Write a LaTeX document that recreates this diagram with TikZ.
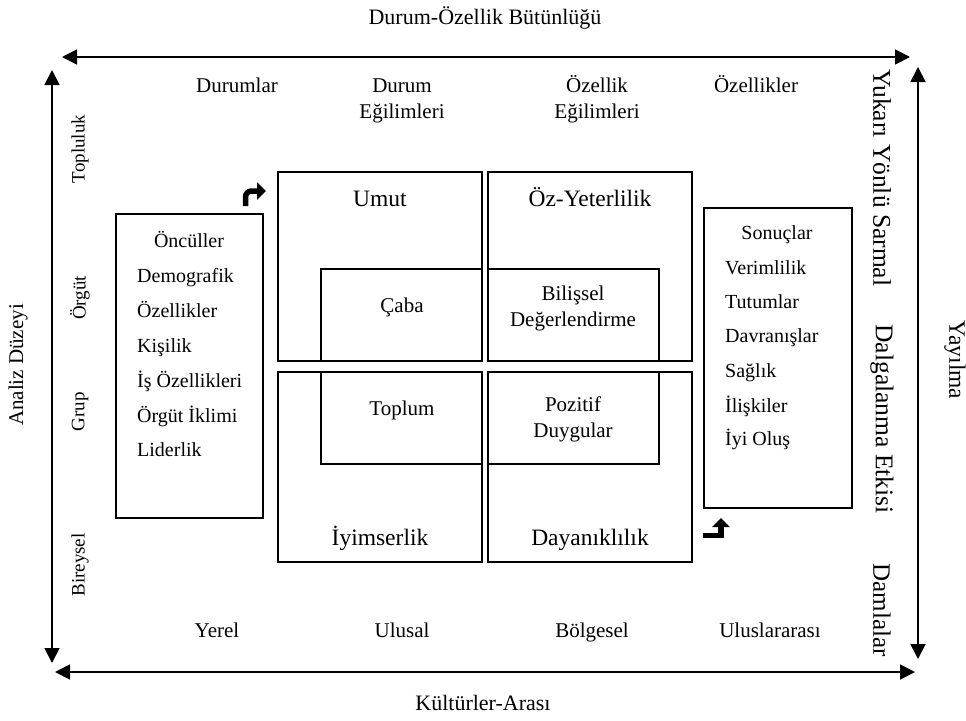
\documentclass[tikz,border=0pt]{standalone}
\usepackage{fontspec}
\setmainfont{Liberation Serif}
\usetikzlibrary{arrows.meta}
\begin{document}
\begin{tikzpicture}[x=1pt,y=-1pt,
  box/.style={draw, line width=1.7pt, inner sep=0pt, outer sep=0pt, anchor=north west},
  lbl/.style={inner sep=0pt, align=center, font=\fontsize{21}{26}\selectfont},
  title/.style={inner sep=0pt, font=\fontsize{23.5}{28}\selectfont},
  inner/.style={inner sep=0pt, align=center, font=\fontsize{21}{26}\selectfont},
  item/.style={inner sep=0pt, anchor=base west, font=\fontsize{20}{24}\selectfont},
  head/.style={inner sep=0pt, anchor=base, font=\fontsize{20}{24}\selectfont},
  axis/.style={line width=1.8pt, {Triangle[length=15pt,width=15pt]}-{Triangle[length=15pt,width=15pt]}},
  bent/.style={line width=5.5pt, -{Triangle[length=9pt,width=17pt]}}
]
\useasboundingbox (0,0) rectangle (966,720);

% outer axes
\coordinate (tl) at (62,57);  \coordinate (tr) at (910,57);
\coordinate (lt) at (52,70);  \coordinate (lb) at (52,663);
\coordinate (bl) at (55,672); \coordinate (br) at (915,672);
\coordinate (rt) at (918,67); \coordinate (rb) at (918,659);
\draw[axis] (tl) -- (tr);
\draw[axis] (lt) -- (lb);
\draw[axis] (bl) -- (br);
\draw[axis] (rt) -- (rb);

% axis titles
\node[lbl, font=\fontsize{22}{26}\selectfont] (ttop) at (485,18) {Durum-Özellik Bütünlüğü};
\node[lbl, font=\fontsize{22}{26}\selectfont] (tbot) at (483,703) {Kültürler-Arası};
\node[lbl, font=\fontsize{21}{26}\selectfont, rotate=90] (tleft) at (18,365) {Analiz Düzeyi};
\node[lbl, font=\fontsize{23.5}{26}\selectfont, rotate=-90] (tright) at (955,360) {Yayılma};

% column labels (last line baseline given)
\node[lbl, anchor=base] (c1) at (237,92) {Durumlar};
\node[lbl, anchor=base] (c2) at (402,118) {Durum\\Eğilimleri};
\node[lbl, anchor=base] (c3) at (597,118) {Özellik\\Eğilimleri};
\node[lbl, anchor=base] (c4) at (756,92) {Özellikler};

\node[lbl, anchor=base] (d1) at (217,637) {Yerel};
\node[lbl, anchor=base] (d2) at (402,637) {Ulusal};
\node[lbl, anchor=base] (d3) at (592,637) {Bölgesel};
\node[lbl, anchor=base] (d4) at (770,637) {Uluslararası};

% level labels (left)
\node[lbl, font=\fontsize{19}{24}\selectfont, rotate=90] (l1) at (80,149) {Topluluk};
\node[lbl, font=\fontsize{19}{24}\selectfont, rotate=90] (l2) at (80,298) {Örgüt};
\node[lbl, font=\fontsize{19}{24}\selectfont, rotate=90] (l3) at (80,412) {Grup};
\node[lbl, font=\fontsize{19}{24}\selectfont, rotate=90] (l4) at (80,565) {Bireysel};

% spread labels (right)
\node[lbl, font=\fontsize{25.5}{28}\selectfont, rotate=-90] (r1) at (882,178) {Yukarı Yönlü Sarmal};
\node[lbl, font=\fontsize{25.5}{28}\selectfont, rotate=-90] (r2) at (882,419) {Dalgalanma Etkisi};
\node[lbl, font=\fontsize{25}{28}\selectfont, rotate=-90] (r3) at (882,610) {Damlalar};

% antecedents box
\node[box, minimum width=147pt, minimum height=304pt] (onc) at (116,214) {};
\node[head] (onch) at (189,247) {Öncüller};
\node[item] (o1) at (137,282) {Demografik};
\node[item] (o2) at (137,317) {Özellikler};
\node[item] (o3) at (137,352) {Kişilik};
\node[item] (o4) at (137,387) {İş Özellikleri};
\node[item] (o5) at (137,422) {Örgüt İklimi};
\node[item] (o6) at (137,456) {Liderlik};

% outcomes box
\node[box, minimum width=148pt, minimum height=300pt] (son) at (704,208) {};
\node[head] (sonh) at (777,239) {Sonuçlar};
\node[item] (s1) at (725,274) {Verimlilik};
\node[item] (s2) at (725,308) {Tutumlar};
\node[item] (s3) at (725,342) {Davranışlar};
\node[item] (s4) at (725,377) {Sağlık};
\node[item] (s5) at (725,412) {İlişkiler};
\node[item] (s6) at (725,445) {İyi Oluş};

% four capacity quadrants
\node[box, minimum width=204pt, minimum height=189pt] (umut) at (278,172) {};
\node[box, minimum width=204pt, minimum height=189pt] (oz) at (488,172) {};
\node[box, minimum width=204pt, minimum height=190pt] (iyi) at (278,372) {};
\node[box, minimum width=204pt, minimum height=190pt] (day) at (488,372) {};
\node[title, anchor=base] (umutt) at (380,206) {Umut};
\node[title, anchor=base] (ozt) at (590,206) {Öz-Yeterlilik};
\node[title, anchor=base] (iyit) at (380,545) {İyimserlik};
\node[title, anchor=base] (dayt) at (590,545) {Dayanıklılık};

% inner components (last line baseline given)
\node[box, minimum width=161pt, minimum height=92pt] (caba) at (321,269) {};
\node[box, minimum width=171pt, minimum height=92pt] (bil) at (488,269) {};
\node[box, minimum width=161pt, minimum height=92pt] (top) at (321,372) {};
\node[box, minimum width=171pt, minimum height=92pt] (poz) at (488,372) {};
\node[inner, anchor=base] (cabat) at (402,312) {Çaba};
\node[inner, anchor=base] (bilt) at (573,326) {Bilişsel\\Değerlendirme};
\node[inner, anchor=base] (topt) at (402,415) {Toplum};
\node[inner, anchor=base] (pozt) at (573,437) {Pozitif\\Duygular};

% bent flow arrows
\coordinate (a1s) at (245.5,206);
\coordinate (a1e) at (266,191);
\draw[bent, rounded corners=6pt] (a1s) |- (a1e);
\coordinate (a2s) at (703,535.5);
\coordinate (a2e) at (721,518);
\draw[bent] (a2s) -| (a2e);
\end{tikzpicture}
\end{document}
